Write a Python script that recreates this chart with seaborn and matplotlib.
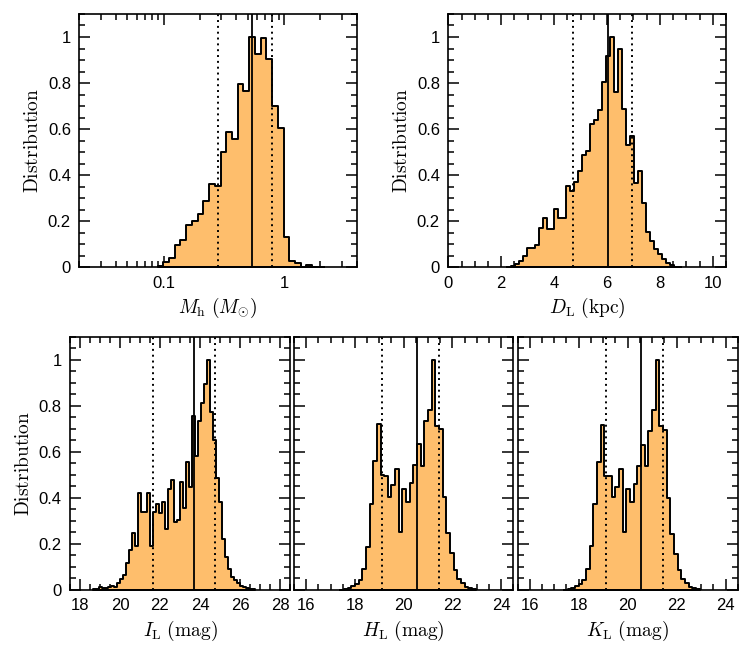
import numpy as np
import matplotlib
matplotlib.use("Agg")
import matplotlib.pyplot as plt
import seaborn as sns
from matplotlib.ticker import MultipleLocator, FixedLocator, FuncFormatter, NullFormatter

# normalised distributions (peak = 1)
# lens mass: bins in log10(M/Msun)
mh_start = -1.05
mh_width = 0.0475
mh_heights = [0.006, 0.025, 0.040, 0.096, 0.120, 0.184, 0.200, 0.230, 0.290, 0.360,
              0.355, 0.500, 0.587, 0.558, 0.794, 0.767, 1.000, 0.926, 0.997, 0.906,
              0.700, 0.603, 0.133, 0.029, 0.017, 0.003, 0.009, 0.003, 0.002]

# distance (kpc)
dl_start = 2.215
dl_width = 0.15
dl_heights = [0.003, 0.007, 0.013, 0.029, 0.049, 0.083, 0.083, 0.096, 0.170, 0.216,
              0.165, 0.165, 0.255, 0.213, 0.213, 0.355, 0.332, 0.371, 0.416, 0.487,
              0.503, 0.623, 0.641, 0.684, 0.806, 0.919, 1.000, 0.761, 0.949, 0.687,
              0.529, 0.571, 0.365, 0.416, 0.278, 0.155, 0.112, 0.078, 0.057, 0.035,
              0.017, 0.010, 0.003, 0.001]

# I-band magnitude
il_start = 18.675
il_width = 0.15
il_heights = [0.003, 0.003, 0.014, 0.007, 0.007, 0.014, 0.019, 0.014, 0.029, 0.046,
              0.065, 0.119, 0.174, 0.249, 0.191, 0.420, 0.340, 0.340, 0.420, 0.191,
              0.340, 0.372, 0.336, 0.381, 0.267, 0.439, 0.478, 0.297, 0.304, 0.467,
              0.355, 0.554, 0.449, 0.754, 0.580, 0.732, 0.812, 0.894, 1.000, 0.775,
              0.652, 0.486, 0.381, 0.222, 0.145, 0.090, 0.055, 0.043, 0.029, 0.019,
              0.012, 0.007, 0.004, 0.003]

# H-band magnitude
hl_start = 17.4
hl_width = 0.15
hl_heights = [0.001, 0.003, 0.007, 0.017, 0.025, 0.043, 0.090, 0.188, 0.374, 0.559,
              0.719, 0.499, 0.496, 0.403, 0.454, 0.526, 0.252, 0.439, 0.381, 0.464,
              0.542, 0.632, 0.540, 0.736, 0.780, 1.000, 0.710, 0.700, 0.406, 0.249,
              0.160, 0.087, 0.046, 0.029, 0.014, 0.007, 0.003]

# K-band magnitude
kl_start = 17.4
kl_width = 0.15
kl_heights = [0.001, 0.003, 0.010, 0.018, 0.028, 0.045, 0.090, 0.190, 0.375, 0.558,
              0.717, 0.497, 0.497, 0.406, 0.449, 0.524, 0.254, 0.438, 0.380, 0.461,
              0.540, 0.630, 0.540, 0.690, 0.780, 1.000, 0.710, 0.696, 0.400, 0.242,
              0.155, 0.087, 0.046, 0.029, 0.014, 0.007, 0.003]

# 16th percentile, median, 84th percentile
mh_lines = [0.285, 0.54, 0.80]
dl_lines = [4.72, 6.04, 6.93]
il_lines = [21.63, 23.72, 24.75]
hl_lines = [19.10, 20.55, 21.45]
kl_lines = [19.10, 20.53, 21.44]

FILL = "#FEBE6C"

sns.set_style("ticks", {"axes.edgecolor": "black", "xtick.color": "black",
                        "ytick.color": "black", "text.color": "black",
                        "axes.labelcolor": "black"})
plt.rcParams["font.family"] = ["Liberation Sans", "DejaVu Sans"]
plt.rcParams["mathtext.fontset"] = "cm"

fig = plt.figure(figsize=(7.47, 6.59), dpi=100)

def ytick_fmt(v, pos):
    if abs(v) < 1e-9:
        return "0"
    if abs(v - 1) < 1e-9:
        return "1"
    return f"{v:.1f}"

def draw_panel(rect, start, width, heights, lines, log=False):
    ax = fig.add_axes(rect)
    n = len(heights)
    centers = start + width * (np.arange(n) + 0.5)
    x = np.power(10, centers) if log else centers
    sns.histplot(x=x, weights=heights, binwidth=width,
                 binrange=(start, start + n * width),
                 element="step", fill=True, log_scale=log, alpha=1,
                 facecolor=FILL, edgecolor="black", linewidth=1.4, ax=ax)
    ax.axvline(lines[0], color="black", lw=1.4, ls=(0, (1, 2)))
    ax.axvline(lines[1], color="black", lw=1.3)
    ax.axvline(lines[2], color="black", lw=1.4, ls=(0, (1, 2)))
    ax.set_ylim(0, 1.1)
    ax.yaxis.set_major_locator(MultipleLocator(0.2))
    ax.yaxis.set_minor_locator(MultipleLocator(0.05))
    ax.yaxis.set_major_formatter(FuncFormatter(ytick_fmt))
    ax.tick_params(which="both", direction="in", top=True, right=True,
                   width=1.1, labelsize=12, pad=6, colors="black")
    ax.tick_params(which="major", length=8)
    ax.tick_params(which="minor", length=4.5)
    for s in ax.spines.values():
        s.set_linewidth(1.2)
        s.set_color("black")
    ax.set_ylabel("")
    return ax

label_kw = dict(fontsize=14, color="black")

ax1 = draw_panel([0.1062, 0.5944, 0.3713, 0.3844], mh_start, mh_width, mh_heights, mh_lines, log=True)
ax1.set_xlim(0.02, 4)
ax1.xaxis.set_major_locator(FixedLocator([0.1, 1]))
ax1.xaxis.set_major_formatter(FuncFormatter(lambda v, p: "0.1" if v < 0.5 else "1"))
ax1.xaxis.set_minor_formatter(NullFormatter())
ax1.set_xlabel(r"$M_{\rm h}\ (M_{\odot})$", **label_kw)
ax1.set_ylabel(r"${\rm Distribution}$", **label_kw)

ax2 = draw_panel([0.6001, 0.5944, 0.3718, 0.3844], dl_start, dl_width, dl_heights, dl_lines)
ax2.set_xlim(0, 10.5)
ax2.xaxis.set_major_locator(MultipleLocator(2))
ax2.xaxis.set_minor_locator(MultipleLocator(0.5))
ax2.set_xlabel(r"$D_{\rm L}\ {\rm (kpc)}$", **label_kw)
ax2.set_ylabel(r"${\rm Distribution}$", **label_kw)

ax3 = draw_panel([0.0937, 0.1047, 0.2945, 0.3844], il_start, il_width, il_heights, il_lines)
ax3.set_xlim(17.5, 28.5)
ax3.xaxis.set_major_locator(MultipleLocator(2))
ax3.xaxis.set_minor_locator(MultipleLocator(0.5))
ax3.set_xlabel(r"$I_{\rm L}\ {\rm (mag)}$", **label_kw)
ax3.set_ylabel(r"${\rm Distribution}$", **label_kw)

ax4 = draw_panel([0.3936, 0.1047, 0.2936, 0.3844], hl_start, hl_width, hl_heights, hl_lines)
ax4.set_xlim(15.5, 24.5)
ax4.xaxis.set_major_locator(MultipleLocator(2))
ax4.xaxis.set_minor_locator(MultipleLocator(0.5))
ax4.set_xlabel(r"$H_{\rm L}\ {\rm (mag)}$", **label_kw)
ax4.tick_params(labelleft=False)

ax5 = draw_panel([0.6928, 0.1047, 0.2948, 0.3844], kl_start, kl_width, kl_heights, kl_lines)
ax5.set_xlim(15.5, 24.5)
ax5.xaxis.set_major_locator(MultipleLocator(2))
ax5.xaxis.set_minor_locator(MultipleLocator(0.5))
ax5.set_xlabel(r"$K_{\rm L}\ {\rm (mag)}$", **label_kw)
ax5.tick_params(labelleft=False)

fig.savefig("out.png", dpi=100)
